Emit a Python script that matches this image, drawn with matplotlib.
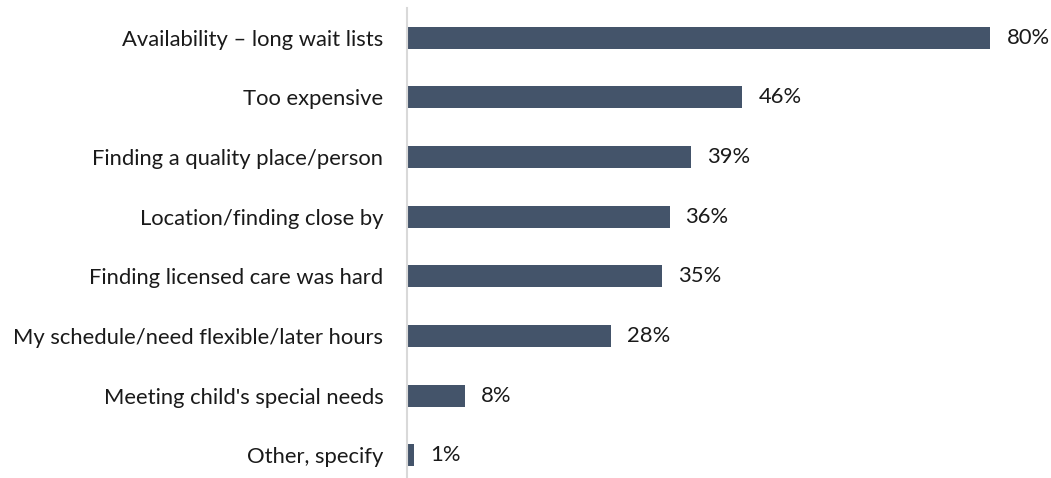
import matplotlib
matplotlib.use("Agg")
import matplotlib.pyplot as plt

categories = [
    "Availability \u2013 long wait lists",
    "Too expensive",
    "Finding a quality place/person",
    "Location/finding close by",
    "Finding licensed care was hard",
    "My schedule/need flexible/later hours",
    "Meeting child's special needs",
    "Other, specify",
]
values = [80, 46, 39, 36, 35, 28, 8, 1]

plt.rcParams['font.family'] = ['Lato', 'DejaVu Sans']

W, H = 1051, 478
fig = plt.figure(figsize=(W / 100, H / 100), dpi=100)
ax = fig.add_axes([407 / W, (H - 485) / H, (W - 407) / W, 477 / H])

pos = list(range(len(categories)))
ax.barh(pos, values, height=0.37, color="#44546A")
ax.set_ylim(len(categories) - 0.5, -0.5)
ax.set_xlim(0, 88.3)

ax.set_yticks(pos)
ax.set_yticklabels(categories, fontsize=15.8, color="#1a1a1a")
ax.tick_params(axis="y", length=0, pad=17)
ax.set_xticks([])

for s in ["top", "right", "bottom"]:
    ax.spines[s].set_visible(False)
ax.spines["left"].set_color("#D9D9D9")
ax.spines["left"].set_linewidth(1.5)

for p, v in zip(pos, values):
    ax.annotate(f"{v}%", (v, p), xytext=(11.5, 0), textcoords="offset points",
                va="center", ha="left", fontsize=15.8, color="#1a1a1a")

fig.savefig("out.png", dpi=100)
